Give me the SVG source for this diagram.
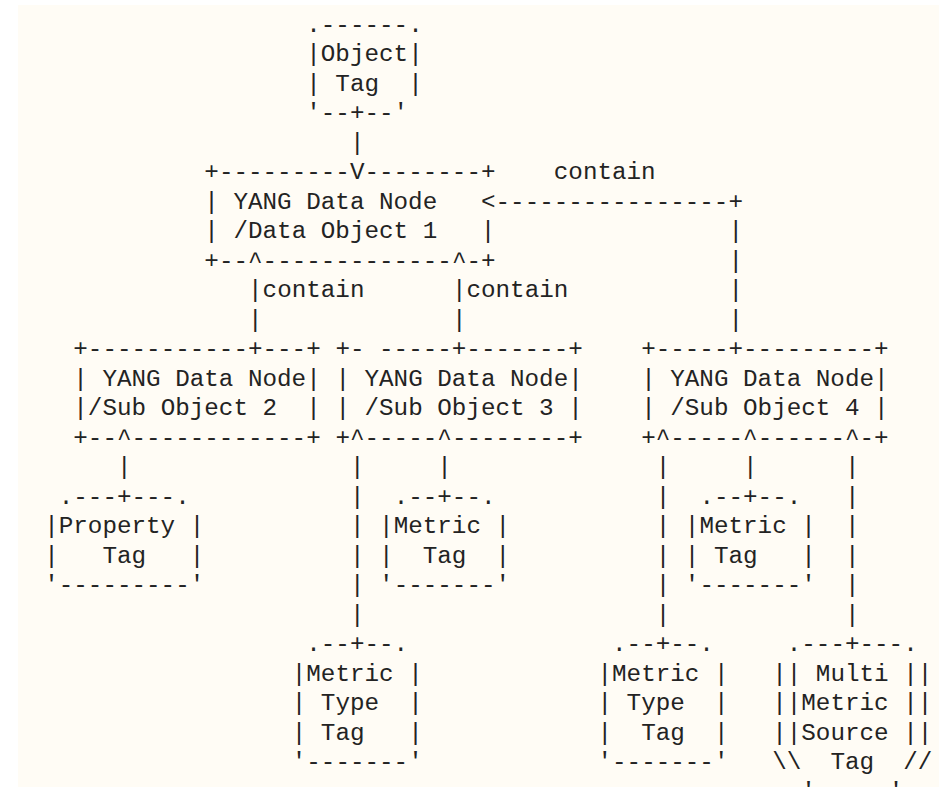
<svg xmlns="http://www.w3.org/2000/svg" width="939" height="787" viewBox="0 0 939 787" xml:space="preserve">
<style>
text{font-family:"Liberation Mono","DejaVu Sans Mono",monospace;font-size:24.26px;fill:#232323;white-space:pre}
</style>
<rect x="0" y="0" width="939" height="787" fill="#ffffff"/>
<rect x="18" y="5" width="921" height="782" fill="#fffcf5"/>
<g id="object-tag">
<text x="306.28" y="31.5">.------.</text>
<text x="306.28" y="61">|Object|</text>
<text x="306.28" y="90.5">| Tag  |</text>
<text x="306.28" y="120">'--+--'</text>
</g>
<g id="data-object-1">
<text x="204.36" y="179">+---------</text>
<text x="364.52" y="179">--------+</text>
<text x="204.36" y="208.5">| YANG Data Node</text>
<text x="204.36" y="238">| /Data Object 1   |</text>
<text x="204.36" y="267.5">+--</text>
<text x="262.6" y="267.5">-------------</text>
<text x="466.44" y="267.5">-+</text>
</g>
<g id="sub-object-2">
<text x="73.32" y="356">+-----------+---+</text>
<text x="73.32" y="385.5">| YANG Data Node|</text>
<text x="73.32" y="415">|/Sub Object 2  |</text>
<text x="73.32" y="444.5">+--</text>
<text x="131.56" y="444.5">------------+</text>
</g>
<g id="sub-object-3">
<text x="335.4" y="356">+- -----+-------+</text>
<text x="335.4" y="385.5">| YANG Data Node|</text>
<text x="335.4" y="415">| /Sub Object 3 |</text>
<text x="335.4" y="444.5">+</text>
<text x="364.52" y="444.5">-----</text>
<text x="451.88" y="444.5">--------+</text>
</g>
<g id="sub-object-4">
<text x="641.16" y="356">+-----+---------+</text>
<text x="641.16" y="385.5">| YANG Data Node|</text>
<text x="641.16" y="415">| /Sub Object 4 |</text>
<text x="641.16" y="444.5">+</text>
<text x="670.28" y="444.5">-----</text>
<text x="757.64" y="444.5">------</text>
<text x="859.56" y="444.5">-+</text>
</g>
<g id="property-tag">
<text x="58.76" y="503.5">.---+---.</text>
<text x="44.2" y="533">|Property |</text>
<text x="44.2" y="562.5">|   Tag   |</text>
<text x="44.2" y="592">'---------'</text>
</g>
<g id="metric-tag-3">
<text x="393.64" y="503.5">.--+--.</text>
<text x="379.08" y="533">|Metric |</text>
<text x="379.08" y="562.5">|  Tag  |</text>
<text x="379.08" y="592">'-------'</text>
</g>
<g id="metric-tag-4">
<text x="699.4" y="503.5">.--+--.</text>
<text x="684.84" y="533">|Metric |</text>
<text x="684.84" y="562.5">| Tag   |</text>
<text x="684.84" y="592">'-------'</text>
</g>
<g id="metric-type-tag-3">
<text x="306.28" y="651">.--+--.</text>
<text x="291.72" y="680.5">|Metric |</text>
<text x="291.72" y="710">| Type  |</text>
<text x="291.72" y="739.5">| Tag   |</text>
<text x="291.72" y="769">'-------'</text>
</g>
<g id="metric-type-tag-4">
<text x="612.04" y="651">.--+--.</text>
<text x="597.48" y="680.5">|Metric |</text>
<text x="597.48" y="710">| Type  |</text>
<text x="597.48" y="739.5">|  Tag  |</text>
<text x="597.48" y="769">'-------'</text>
</g>
<g id="multi-metric-source-tag">
<text x="786.76" y="651">.---+---.</text>
<text x="772.2" y="680.5">|| Multi ||</text>
<text x="772.2" y="710">||Metric ||</text>
<text x="772.2" y="739.5">||Source ||</text>
<text x="772.2" y="769">\\  Tag  //</text>
<text x="801.32" y="798.5">'-----'</text>
</g>
<g id="connectors">
<text x="349.96" y="149.5">|</text>
<text x="349.96" y="179">V</text>
<text x="553.8" y="179">contain</text>
<text x="481" y="208.5">&lt;----------------+</text>
<text x="728.52" y="238">|</text>
<text x="728.52" y="267.5">|</text>
<text x="728.52" y="297">|</text>
<text x="728.52" y="326.5">|</text>
<text x="248.04" y="267.5">^</text>
<text x="451.88" y="267.5">^</text>
<text x="248.04" y="297">|contain</text>
<text x="451.88" y="297">|contain</text>
<text x="248.04" y="326.5">|</text>
<text x="451.88" y="326.5">|</text>
<text x="117" y="444.5">^</text>
<text x="349.96" y="444.5">^</text>
<text x="437.32" y="444.5">^</text>
<text x="655.72" y="444.5">^</text>
<text x="743.08" y="444.5">^</text>
<text x="845" y="444.5">^</text>
<text x="117" y="474">|</text>
<text x="437.32" y="474">|</text>
<text x="743.08" y="474">|</text>
<text x="349.96" y="474">|</text>
<text x="349.96" y="503.5">|</text>
<text x="349.96" y="533">|</text>
<text x="349.96" y="562.5">|</text>
<text x="349.96" y="592">|</text>
<text x="349.96" y="621.5">|</text>
<text x="655.72" y="474">|</text>
<text x="655.72" y="503.5">|</text>
<text x="655.72" y="533">|</text>
<text x="655.72" y="562.5">|</text>
<text x="655.72" y="592">|</text>
<text x="655.72" y="621.5">|</text>
<text x="845" y="474">|</text>
<text x="845" y="503.5">|</text>
<text x="845" y="533">|</text>
<text x="845" y="562.5">|</text>
<text x="845" y="592">|</text>
<text x="845" y="621.5">|</text>
</g>
</svg>
